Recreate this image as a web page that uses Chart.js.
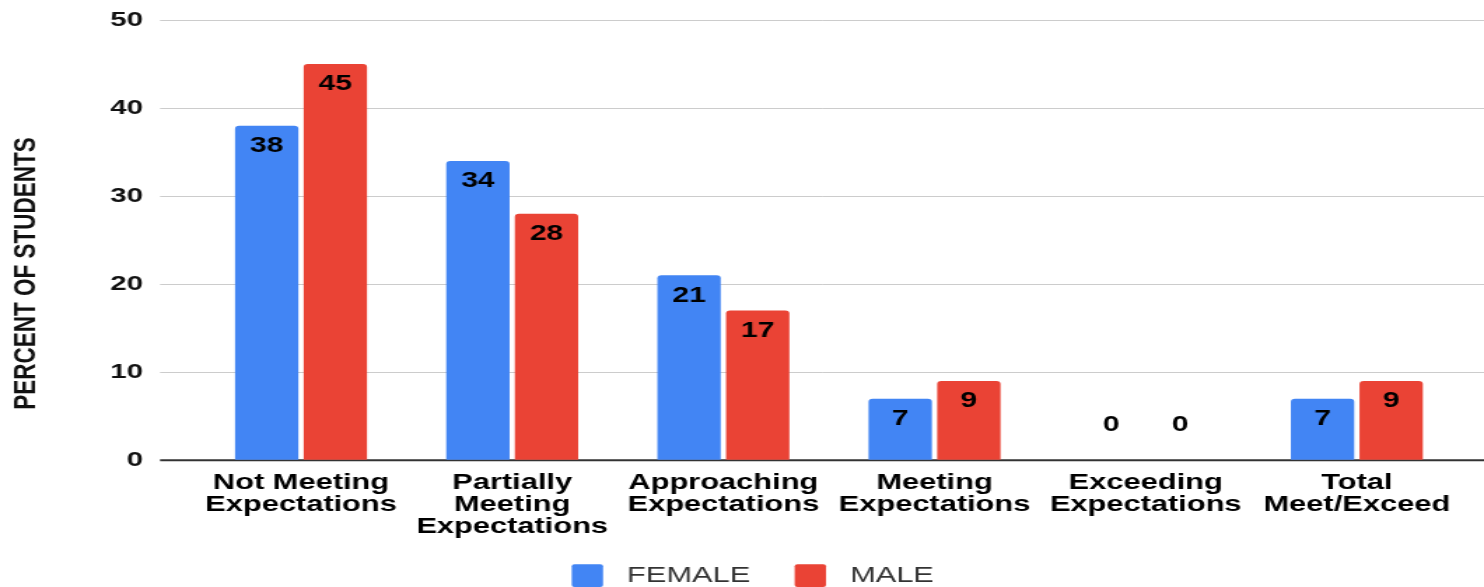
<!DOCTYPE html>
<html>
<head>
<meta charset="utf-8">
<script src="https://cdn.jsdelivr.net/npm/chart.js@4.4.1/dist/chart.umd.min.js"></script>
<style>
  html, body { margin: 0; padding: 0; overflow: hidden; background: #fff; width: 1484px; height: 587px; }
  #wrap { position: absolute; left: 0; top: 0; width: 1060px; height: 597px; transform: scaleX(1.4); transform-origin: 0 0; }
</style>
</head>
<body>
<div id="wrap"><canvas id="c"></canvas></div>
<script>
const categories = [
  ["Not Meeting", "Expectations"],
  ["Partially", "Meeting", "Expectations"],
  ["Approaching", "Expectations"],
  ["Meeting", "Expectations"],
  ["Exceeding", "Expectations"],
  ["Total", "Meet/Exceed"]
];
const femaleValues = [38, 34, 21, 7, 0, 7];
const maleValues = [45, 28, 17, 9, 0, 9];
const yTickValues = [0, 10, 20, 30, 40, 50];
const seriesNames = ["FEMALE", "MALE"];
const yTitle = "PERCENT OF STUDENTS";

const FONT = "'Liberation Sans', Arial, Helvetica, sans-serif";
const RIGHT_PAD = 15.4;

const gridPlugin = {
  id: 'extGrid',
  beforeDatasetsDraw(chart) {
    const ctx = chart.ctx;
    const y = chart.scales.y;
    const left = chart.chartArea.left - 25.3;
    const right = chart.width;
    ctx.save();
    yTickValues.forEach(v => {
      const py = y.getPixelForValue(v);
      ctx.beginPath();
      if (v === 0) {
        ctx.strokeStyle = '#333333';
        ctx.lineWidth = 2;
      } else {
        ctx.strokeStyle = '#cccccc';
        ctx.lineWidth = 1;
      }
      const yy = v === 0 ? py : Math.round(py) + 0.5;
      ctx.moveTo(left, yy);
      ctx.lineTo(right, yy);
      ctx.stroke();
    });
    ctx.restore();
  }
};

const labelPlugin = {
  id: 'barLabels',
  afterDatasetsDraw(chart) {
    const ctx = chart.ctx;
    ctx.save();
    ctx.font = "bold 21.5px " + FONT;
    ctx.fillStyle = '#000000';
    ctx.textAlign = 'center';
    ctx.textBaseline = 'middle';
    chart.data.datasets.forEach((ds, di) => {
      const meta = chart.getDatasetMeta(di);
      meta.data.forEach((bar, i) => {
        const v = ds.data[i];
        const py = v > 0 ? bar.y + 20.5 : bar.base - 35;
        ctx.fillText(String(v), bar.x, py);
      });
    });
    ctx.restore();
  }
};

const yTitlePlugin = {
  id: 'yTitle',
  afterDraw(chart) {
    const ctx = chart.ctx;
    ctx.save();
    ctx.translate(18.4, 273.5);
    ctx.rotate(-Math.PI / 2);
    ctx.font = "bold 22.5px " + FONT;
    ctx.fillStyle = '#111111';
    ctx.textAlign = 'center';
    ctx.textBaseline = 'middle';
    ctx.fillText(yTitle, 0, 0);
    ctx.restore();
  }
};

const legendShift = {
  id: 'legendShift',
  afterLayout(chart) {
    if (chart.legend) {
      chart.legend.left += RIGHT_PAD;
      chart.legend.right += RIGHT_PAD;
    }
  }
};

new Chart(document.getElementById('c'), {
  type: 'bar',
  data: {
    labels: categories,
    datasets: [
      { label: seriesNames[0], data: femaleValues, backgroundColor: '#4285F4', borderRadius: {topLeft: 3, topRight: 3}, borderSkipped: 'bottom' },
      { label: seriesNames[1], data: maleValues, backgroundColor: '#EA4335', borderRadius: {topLeft: 3, topRight: 3}, borderSkipped: 'bottom' }
    ]
  },
  options: {
    responsive: true,
    maintainAspectRatio: false,
    animation: false,
    devicePixelRatio: 1,
    categoryPercentage: 0.65,
    barPercentage: 0.923,
    layout: { padding: { top: 20, right: RIGHT_PAD, left: 0, bottom: 0 } },
    plugins: {
      tooltip: { enabled: false },
      legend: {
        position: 'bottom',
        labels: {
          boxWidth: 22.4,
          boxHeight: 22.7,
          padding: 19.5,
          color: '#333333',
          font: { family: FONT, size: 22, weight: 'normal' },
          generateLabels(chart) {
            return chart.data.datasets.map((ds, i) => ({
              text: ' ' + ds.label + (i === 0 ? '  ' : ''),
              fillStyle: ds.backgroundColor,
              strokeStyle: ds.backgroundColor,
              lineWidth: 0,
              borderRadius: 2,
              hidden: false,
              datasetIndex: i,
              fontColor: '#333333'
            }));
          }
        }
      }
    },
    scales: {
      x: {
        grid: { display: false, drawTicks: false, tickLength: 0 },
        border: { display: false },
        ticks: {
          autoSkip: false, maxRotation: 0, minRotation: 0, padding: 11,
          color: '#000000',
          font: { family: FONT, size: 22, weight: 'bold', lineHeight: 1.02 }
        },
        afterFit(scale) { scale.height = 84.5; }
      },
      y: {
        min: 0, max: 50,
        grid: { display: true, drawOnChartArea: false, drawTicks: true, tickLength: 37.5, color: 'rgba(0,0,0,0)' },
        border: { display: false },
        afterBuildTicks(scale) { scale.ticks = yTickValues.map(v => ({ value: v })); },
        ticks: {
          padding: 0,
          color: '#111111',
          font: { family: FONT, size: 21, weight: 'bold' }
        },
        afterFit(scale) { scale.width = 139.6; }
      }
    }
  },
  plugins: [gridPlugin, labelPlugin, yTitlePlugin, legendShift]
});
</script>
</body>
</html>
